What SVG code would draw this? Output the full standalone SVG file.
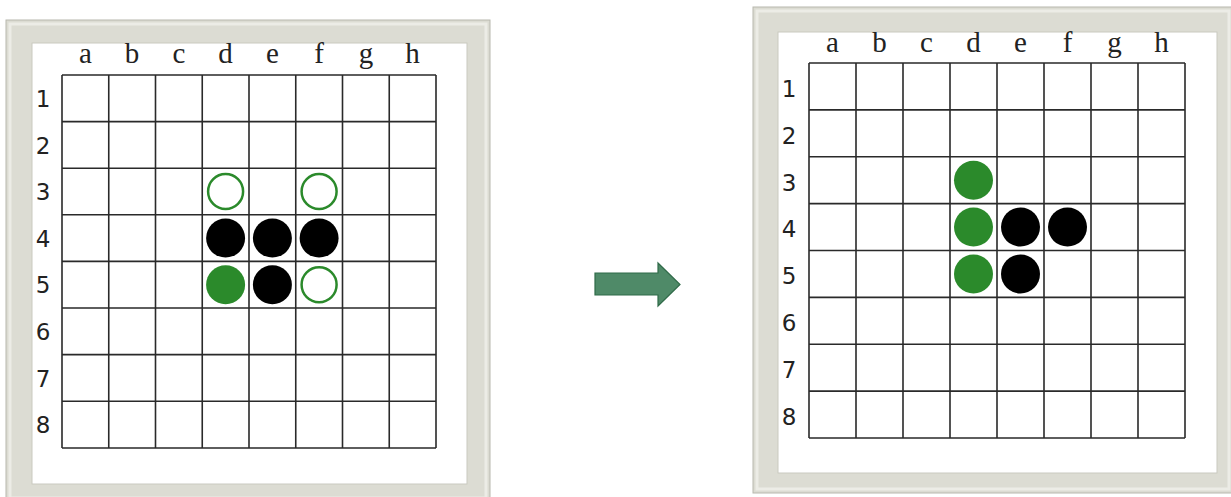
<svg xmlns="http://www.w3.org/2000/svg" width="1231" height="497" viewBox="0 0 1231 497">
<defs>
<style>
.frame{fill:#dcdcd3;stroke:#b8b8ae;stroke-width:1}
.bevel{fill:none;stroke:#ececE6;stroke-width:3}
.inner{fill:#ffffff;stroke:#c9c9c0;stroke-width:1}
.grid{fill:none;stroke:#2a2a2a;stroke-width:1.6}
.col{font-family:"Liberation Serif",serif;font-size:29px;fill:#222;text-anchor:middle}
.row{font-family:"DejaVu Sans",sans-serif;font-size:23px;fill:#222;text-anchor:middle}
.blk{fill:#000}
.grn{fill:#2b8a2b}
.opn{fill:#fff;stroke:#2b8a2b;stroke-width:2.5}
</style>
</defs>
<rect width="1231" height="497" fill="#ffffff"/>

<g id="board-left">
<rect class="frame" x="6" y="20" width="484" height="482"/>
<rect class="bevel" x="10" y="24" width="476" height="474"/>
<rect class="inner" x="32" y="43" width="435" height="441"/>
<path class="grid" d="M62 75V448M108.75 75V448M155.5 75V448M202.25 75V448M249 75V448M295.75 75V448M342.5 75V448M389.25 75V448M436 75V448M62 75H436M62 121.6H436M62 168.2H436M62 214.8H436M62 261.4H436M62 308H436M62 354.6H436M62 401.2H436M62 448H436"/>
<g class="col">
<text x="85.4" y="63">a</text><text x="132.1" y="63">b</text><text x="178.9" y="63">c</text><text x="225.6" y="63">d</text><text x="272.4" y="63">e</text><text x="319.1" y="63">f</text><text x="365.9" y="63">g</text><text x="412.6" y="63">h</text>
</g>
<g class="row">
<text x="43" y="107">1</text><text x="43" y="154">2</text><text x="43" y="200">3</text><text x="43" y="247">4</text><text x="43" y="293">5</text><text x="43" y="340">6</text><text x="43" y="387">7</text><text x="43" y="433">8</text>
</g>
<circle class="opn" cx="225.6" cy="191.5" r="17.5"/>
<circle class="opn" cx="319.1" cy="191.5" r="17.5"/>
<circle class="blk" cx="225.6" cy="238.1" r="19.5"/>
<circle class="blk" cx="272.4" cy="238.1" r="19.5"/>
<circle class="blk" cx="319.1" cy="238.1" r="19.5"/>
<circle class="grn" cx="225.6" cy="284.7" r="19.5"/>
<circle class="blk" cx="272.4" cy="284.7" r="19.5"/>
<circle class="opn" cx="319.1" cy="284.7" r="17.5"/>
</g>

<g id="connectors">
<path d="M595 273H658V263L680 284.5L658 306V295H595Z" fill="#4f8a68" stroke="#2f6a48" stroke-width="1.2"/>
</g>

<g id="board-right">
<rect class="frame" x="753" y="7" width="480" height="486"/>
<rect class="bevel" x="757" y="11" width="472" height="478"/>
<rect class="inner" x="778" y="32" width="439" height="441"/>
<path class="grid" d="M809 63V438M856 63V438M903 63V438M950 63V438M997 63V438M1044 63V438M1091 63V438M1138 63V438M1185 63V438M809 63H1185M809 109.9H1185M809 156.8H1185M809 203.6H1185M809 250.5H1185M809 297.4H1185M809 344.2H1185M809 391.1H1185M809 438H1185"/>
<g class="col">
<text x="832.5" y="52">a</text><text x="879.5" y="52">b</text><text x="926.5" y="52">c</text><text x="973.5" y="52">d</text><text x="1020.5" y="52">e</text><text x="1067.5" y="52">f</text><text x="1114.5" y="52">g</text><text x="1161.5" y="52">h</text>
</g>
<g class="row">
<text x="789" y="97">1</text><text x="789" y="144">2</text><text x="789" y="191">3</text><text x="789" y="237">4</text><text x="789" y="284">5</text><text x="789" y="331">6</text><text x="789" y="378">7</text><text x="789" y="425">8</text>
</g>
<circle class="grn" cx="973.5" cy="180.2" r="19.5"/>
<circle class="grn" cx="973.5" cy="227.1" r="19.5"/>
<circle class="blk" cx="1020.5" cy="227.1" r="19.5"/>
<circle class="blk" cx="1067.5" cy="227.1" r="19.5"/>
<circle class="grn" cx="973.5" cy="274" r="19.5"/>
<circle class="blk" cx="1020.5" cy="274" r="19.5"/>
</g>
</svg>
